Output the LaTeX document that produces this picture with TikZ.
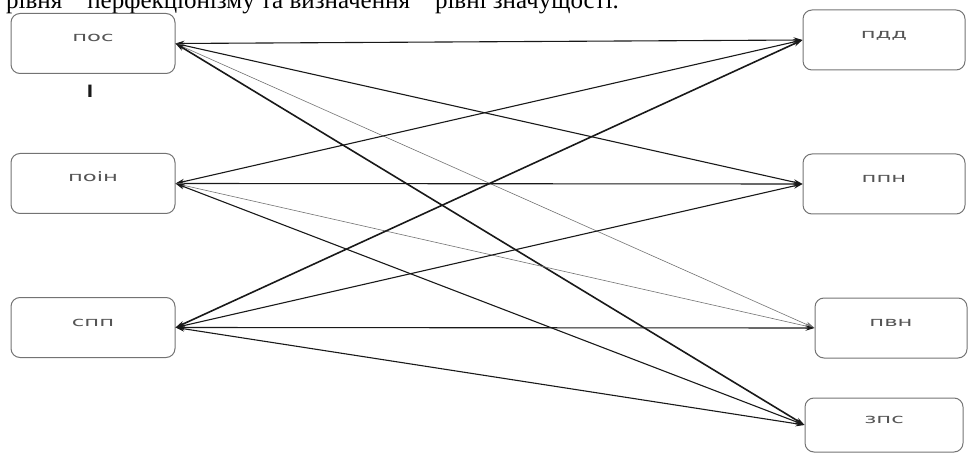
\documentclass[tikz,border=0pt]{standalone}
\usepackage{graphicx}
\usepackage{fontspec}
\setmainfont{Liberation Serif}
\newfontfamily\boxfont{DejaVu Sans}
\usetikzlibrary{arrows.meta,positioning}
\definecolor{boxG}{RGB}{115,115,115}
\definecolor{labG}{RGB}{85,85,85}
\definecolor{lineK}{RGB}{25,25,25}

\begin{document}
\begin{tikzpicture}[x=1pt, y=-1pt,
  box/.style={draw=boxG, line width=1pt, rounded corners=9pt,
    minimum width=164pt, minimum height=60pt, inner sep=0pt,
    text height=8pt, text depth=11pt, text=labG,
    font=\boxfont\fontsize{13}{13}\selectfont},
  arr/.style={{Stealth[length=9pt,width=5.5pt]}-{Stealth[length=9pt,width=5.5pt]},
    line width=1.1pt, lineK},
  faint/.style={line width=0.6pt, black!55},
  heavy/.style={line width=1.6pt},
]
\clip (0,0) rectangle (968,454);

% cut-off line of the page text above the figure
\node[anchor=base west, inner sep=0pt, font=\fontsize{25}{25}\selectfont] (head) at (6,9)
  {рівня\quad перфекціонізму та визначення\quad рівні значущості.};

% left column
\node[box] (pos) at (93,43.5) {\scalebox{1.75}[1]{пос}};
\node[box, below=79pt of pos] (poin) {\scalebox{1.75}[1]{поін}};
\node[box, below=83pt of poin] (spp) {\scalebox{1.75}[1]{спп}};
\node[font=\boxfont\bfseries\fontsize{17}{17}\selectfont, text=lineK] (cur) at (90,91) {I};

% right column
\node[box, minimum width=162pt] (pdd) at (884,40) {\scalebox{1.75}[1]{пдд}};
\node[box, minimum width=162pt, below=83pt of pdd] (ppn) {\scalebox{1.75}[1]{ппн}};
\node[box, minimum width=152pt, below=83pt of ppn, xshift=7pt] (pvn) {\scalebox{1.75}[1]{пвн}};
\node[box, minimum width=158pt, minimum height=54pt] (zps) at (884,425) {\scalebox{1.75}[1]{зпс}};

% links
\draw[arr] (pos.east) -- (pdd.west);
\draw[arr] (pos.east) -- (ppn.west);
\draw[arr, faint] (pos.east) -- (pvn.west);
\draw[arr, heavy] (pos.east) -- (zps.west);
\draw[arr] (poin.east) -- (pdd.west);
\draw[arr] (poin.east) -- (ppn.west);
\draw[arr, faint] (poin.east) -- (pvn.west);
\draw[arr] (poin.east) -- (zps.west);
\draw[arr, heavy] (spp.east) -- (pdd.west);
\draw[arr] (spp.east) -- (ppn.west);
\draw[arr] (spp.east) -- (pvn.west);
\draw[arr] (spp.east) -- (zps.west);

\end{tikzpicture}
\end{document}
